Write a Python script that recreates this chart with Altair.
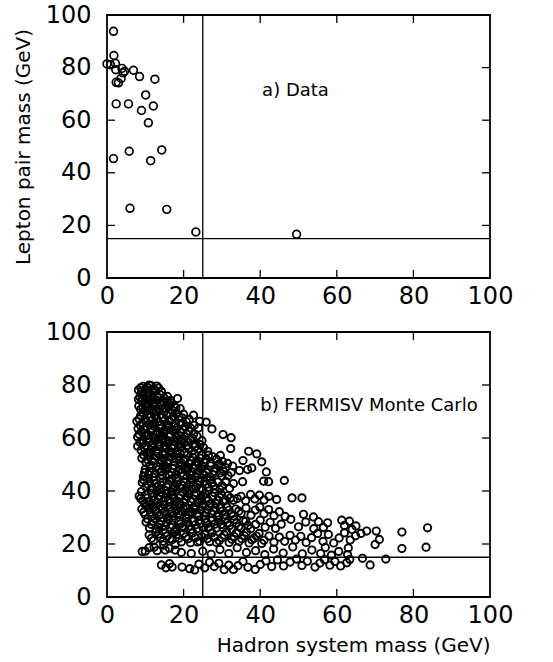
import altair as alt
import pandas as pd

# ---------------- panel a) data ----------------
data_x = [1.7, 1.8, 0.0, 0.9, 2.2, 2.3, 3.9, 4.6, 4.2, 3.7, 2.4, 3.0, 6.9, 8.5, 12.5,
          2.4, 5.6, 10.1, 9.0, 12.1, 10.8, 1.7, 5.8, 14.3, 11.4, 6.0, 15.6, 23.2, 49.5]
data_y = [93.8, 84.6, 81.4, 81.1, 81.6, 79.2, 79.7, 78.6, 78.0, 75.9, 74.4, 74.2, 79.0, 76.6, 75.6,
          66.2, 66.2, 69.6, 63.7, 65.4, 59.0, 45.4, 48.2, 48.7, 44.6, 26.5, 26.1, 17.5, 16.6]

# ---------------- panel b) FERMISV Monte Carlo (read band by band) ----------------
mc_78_80 = [(9.5,79.5),(10.5,79.2),(11.5,79.8),(12.2,78.6),(13.5,78.9),(8.2,78.1),(9.0,77.6),
            (10.8,77.3),(12.8,77.8),(11.4,76.5),(8.8,79.0),(10.0,78.4),(11.0,80.0),(12.0,77.2),
            (13.0,79.6),(14.2,77.6),(9.6,77.0),(11.8,78.3)]
mc_74_77 = [(8.6,75.4),(9.7,76.1),(10.4,74.6),(11.9,75.2),(12.9,74.3),(13.8,76.4),(14.9,75.1),
            (15.6,73.9),(9.1,73.8),(16.6,74.2),(18.4,74.9),(8.2,74.6),(9.2,75.0),(10.2,73.2),
            (11.2,74.0),(12.4,73.6),(13.2,75.6),(14.6,74.0),(15.8,75.7),(16.8,73.2)]
mc_70_73 = [(8.3,72.1),(9.4,71.3),(10.6,72.6),(11.3,70.8),(12.5,71.9),(13.6,70.6),(14.4,72.4),
            (15.3,71.1),(16.2,72.8),(17.1,70.4),(19.1,71.1),(10.0,70.2),(12.0,73.1),(14.0,73.5),
            (17.6,72.0),(8.8,70.8),(10.6,71.6),(12.8,70.2),(15.0,70.0),(16.0,71.8),(18.0,71.4)]
mc_66_69 = [(7.8,66.3),(8.8,68.4),(9.9,67.2),(10.7,68.9),(11.8,66.7),(12.6,68.2),(13.4,66.1),
            (14.5,67.7),(15.6,68.6),(16.3,66.4),(17.4,67.9),(18.2,69.3),(19.6,67.6),(20.7,66.2),
            (22.6,68.6),(24.2,66.3),(25.9,66.0),(9.2,65.5),(11.0,65.2),(14.0,65.0),
            (8.4,67.2),(9.4,69.4),(10.2,66.0),(11.4,67.8),(12.2,69.6),(13.0,67.3),(14.0,68.9),
            (15.0,66.5),(16.0,69.5),(16.9,67.0),(17.9,65.6),(18.8,68.0),(20.0,69.0),(21.5,67.0),
            (19.2,65.4),(12.4,65.6)]
mc_62_65 = [(8.1,63.6),(9.0,62.4),(10.3,64.1),(11.4,62.8),(12.2,64.5),(13.1,62.2),(14.2,63.7),
            (15.0,62.5),(16.1,64.0),(17.0,62.9),(18.3,63.9),(19.2,62.1),(20.5,64.3),(21.4,62.6),
            (23.9,63.8),(27.4,63.4),(8.7,64.8),(15.8,65.0),(8.4,61.4),(9.6,63.4),(10.8,61.0),
            (11.8,63.6),(12.8,61.2),(13.6,64.6),(14.6,61.8),(15.6,63.0),(16.6,61.4),(17.6,64.4),
            (18.8,61.0),(19.8,63.2),(20.8,61.6),(21.8,63.8),(22.6,61.4),(22.8,64.8)]
mc_58_61 = [(8.0,60.4),(9.3,59.2),(10.2,60.8),(11.1,58.6),(12.4,60.0),(13.3,58.4),(14.1,60.6),
            (15.2,59.3),(16.4,60.9),(17.3,58.8),(18.1,60.2),(19.4,59.0),(20.3,60.7),(21.2,58.5),
            (22.4,59.8),(23.5,60.7),(30.3,61.3),(32.4,60.1),(9.8,61.5),(13.8,61.6),(17.8,61.7),
            (8.6,58.4),(10.6,59.6),(12.6,59.0),(14.4,59.6),(16.0,59.0),(18.0,58.4),(19.8,59.8),
            (21.8,59.4),(24.8,59.0)]
mc_54_57 = [(8.0,56.9),(8.9,55.4),(10.0,57.2),(10.9,54.6),(11.8,56.3),(12.9,55.0),(13.7,56.8),
            (14.6,54.4),(15.5,56.0),(16.6,54.9),(17.5,57.1),(18.4,55.3),(19.3,56.6),(20.2,54.5),
            (21.3,56.1),(22.2,55.0),(23.1,56.8),(24.3,57.5),(26.3,55.0),(32.3,56.0),(37.0,55.0),
            (39.1,54.0),(9.4,58.0),(12.0,58.0),(16.0,57.8),(20.0,58.0),(9.8,56.2),(11.6,57.4),
            (13.6,57.6),(15.0,57.2),(16.8,56.4),(18.8,57.6),(20.8,57.2),(22.8,57.8),(23.8,55.8),
            (25.2,56.4)]
mc_50_53 = [(9.1,52.4),(10.2,50.8),(11.0,52.9),(11.9,51.2),(12.8,53.1),(13.9,50.5),(14.8,52.2),
            (15.7,50.9),(16.5,52.8),(17.6,51.0),(18.6,52.5),(19.5,50.6),(20.4,52.0),(21.5,50.3),
            (22.4,52.7),(23.3,51.1),(24.4,52.4),(25.5,50.8),(28.6,52.0),(30.1,51.2),(31.5,50.4),
            (35.5,51.5),(40.4,51.0),(10.5,54.0),(14.5,53.8),(18.0,53.9),(26.5,53.5),
            (9.6,53.6),(10.6,51.8),(11.5,54.6),(12.3,52.2),(13.3,54.2),(14.3,51.6),(15.2,53.8),
            (16.1,51.6),(17.0,54.4),(18.0,52.0),(19.0,54.2),(20.0,51.4),(21.0,53.6),(22.0,51.4),
            (22.9,54.0),(23.9,50.2),(24.8,53.6),(25.9,51.8),(27.0,50.6),(27.5,53.0),(29.3,50.2),
            (29.6,53.4)]
mc_45_49 = [(10.0,48.3),(10.8,46.2),(11.7,48.7),(12.6,46.5),(13.5,48.1),(14.4,45.9),(15.3,47.7),
            (16.2,46.0),(17.2,48.5),(18.1,46.4),(19.0,48.2),(19.9,45.7),(20.8,47.5),(21.7,46.1),
            (22.6,48.6),(23.5,46.8),(24.5,48.4),(25.4,46.0),(26.5,47.8),(27.6,46.3),(28.5,48.5),
            (29.5,46.8),(30.5,47.3),(31.6,45.8),(32.4,47.0),(34.6,47.7),(36.7,48.1),(37.8,48.7),
            (41.6,47.2),(9.5,45.5),(11.2,49.6),(15.0,49.7),(19.5,49.6),(23.0,49.8),(27.0,49.5),
            (9.8,47.0),(11.2,47.4),(12.0,45.2),(13.0,49.2),(14.0,47.2),(14.8,49.0),(15.8,48.8),
            (16.8,47.0),(17.6,49.6),(18.6,47.6),(19.4,46.8),(20.4,49.2),(21.2,48.4),(22.2,47.2),
            (23.2,45.4),(24.0,47.6),(25.0,49.2),(25.9,47.0),(27.0,45.2),(28.0,47.4),(29.0,49.8),
            (30.0,45.6),(31.0,48.8),(32.8,49.4)]
mc_40_44 = [(9.2,43.2),(10.1,41.5),(11.0,43.7),(11.9,41.0),(12.8,42.8),(13.7,40.6),(14.6,43.4),
            (15.5,41.8),(16.4,43.9),(17.3,40.9),(18.2,42.6),(19.1,41.2),(20.0,43.5),(20.9,41.6),
            (21.8,43.1),(22.7,40.8),(23.6,42.4),(24.5,41.1),(25.5,43.6),(26.4,41.4),(27.4,42.9),
            (28.2,40.7),(35.4,43.5),(40.9,43.7),(42.2,43.5),(46.3,44.0),(10.5,44.5),(14.0,44.8),
            (18.0,44.6),(22.0,44.7),(26.0,44.8),(30.0,42.0),(32.0,41.0),
            (9.6,44.2),(10.6,42.6),(11.4,40.4),(12.3,44.0),(13.2,41.8),(14.2,42.2),(15.0,40.2),
            (16.0,42.6),(16.9,44.6),(17.8,41.6),(18.6,43.8),(19.6,42.2),(20.4,40.4),(21.4,42.4),
            (22.3,44.2),(23.2,41.6),(24.1,43.6),(25.0,40.4),(26.0,42.6),(27.0,44.2),(27.8,41.8),
            (29.0,43.4),(29.5,40.6),(31.0,43.6),(33.0,42.8)]
mc_35_39 = [(8.4,38.1),(9.3,36.4),(10.2,38.6),(11.1,35.9),(12.0,37.7),(12.9,35.5),(13.8,38.2),
            (14.7,36.1),(15.6,38.9),(16.5,35.8),(17.4,37.5),(18.3,36.2),(19.2,38.4),(20.1,35.6),
            (21.0,37.9),(21.9,36.0),(22.8,38.5),(23.7,35.7),(24.6,37.2),(25.6,39.0),(26.5,36.3),
            (27.5,38.0),(28.4,35.4),(29.4,37.6),(30.3,36.0),(31.5,38.2),(33.0,36.5),(35.0,38.0),
            (36.2,36.3),(37.5,38.7),(38.6,37.0),(39.8,38.4),(41.0,36.6),(42.3,38.0),(44.3,36.8),
            (48.3,37.4),(50.9,37.4),(9.0,39.8),(13.0,39.9),(17.0,39.6),(21.0,39.8),(25.0,34.9),
            (8.8,37.2),(9.8,35.2),(10.6,37.4),(11.6,39.2),(12.4,36.6),(13.4,37.0),(14.2,39.4),
            (15.2,37.4),(16.0,36.8),(17.0,38.6),(17.8,36.0),(18.8,37.4),(19.7,39.6),(20.6,36.8),
            (21.4,38.8),(22.4,37.0),(23.2,39.4),(24.2,36.4),(25.1,38.2),(26.0,37.4),(27.0,35.2),
            (28.0,39.4),(29.0,36.6),(29.9,38.6),(31.0,36.6),(32.2,37.4),(34.0,37.2)]
mc_30_34 = [(9.1,33.2),(10.0,31.0),(10.9,33.7),(11.8,30.5),(12.7,32.4),(13.6,30.8),(14.5,33.1),
            (15.4,31.3),(16.3,33.9),(17.2,30.6),(18.1,32.6),(19.0,31.0),(19.9,33.5),(20.8,30.3),
            (21.7,32.2),(22.6,33.8),(23.5,31.1),(24.4,32.9),(25.4,30.6),(26.3,33.0),(27.3,31.5),
            (28.2,33.6),(29.2,30.8),(30.2,32.5),(31.3,34.0),(32.4,31.2),(33.6,33.2),(35.0,31.5),
            (36.3,33.6),(37.6,30.9),(38.7,32.8),(39.9,34.0),(41.0,31.4),(42.2,33.0),(43.6,30.7),
            (45.0,32.2),(46.5,30.4),(51.3,31.2),(53.9,30.2),(11.5,34.8),(15.0,34.7),(19.0,34.6),
            (23.0,34.5),(9.6,32.0),(10.4,34.6),(11.4,32.0),(12.2,33.8),(13.2,31.8),(14.0,34.2),
            (15.0,32.2),(15.9,30.2),(16.8,32.2),(17.6,34.4),(18.6,31.6),(19.5,32.4),(20.4,34.0),
            (21.2,31.0),(22.2,31.6),(23.0,33.0),(24.0,30.6),(24.9,34.0),(25.9,31.6),(26.8,34.4),
            (27.8,32.4),(28.7,30.4),(29.7,33.8),(30.8,31.0),(31.9,32.8),(33.0,30.6),(34.4,32.4)]
mc_25_29 = [(10.2,28.3),(11.1,26.0),(12.0,28.7),(12.9,25.6),(13.8,27.4),(14.7,25.4),(15.6,28.1),
            (16.5,26.3),(17.4,28.9),(18.3,25.7),(19.2,27.6),(20.1,26.0),(21.0,28.4),(22.0,25.5),
            (23.0,27.2),(24.0,29.0),(25.0,26.4),(26.0,28.2),(27.0,25.3),(28.1,27.5),(29.2,29.1),
            (30.3,26.1),(31.4,28.0),(32.6,25.6),(33.8,27.8),(35.0,26.0),(36.2,28.6),(37.5,25.8),
            (38.8,27.4),(40.0,29.0),(41.3,26.3),(42.6,28.2),(44.0,25.9),(45.5,27.5),(48.0,29.3),
            (51.9,28.3),(55.2,28.4),(57.6,28.0),(61.3,29.0),(63.3,28.6),(65.0,26.8),(56.5,26.2),
            (62.0,27.0),(64.0,25.5),(54.0,25.8),(50.0,26.5),
            (10.6,29.4),(11.6,27.4),(12.4,29.6),(13.4,26.4),(14.2,28.6),(15.2,26.8),(16.0,29.4),
            (17.0,27.2),(17.8,25.2),(18.8,28.8),(19.6,26.6),(20.6,29.6),(21.5,26.8),(22.5,28.6),
            (23.5,25.8),(24.5,27.8),(25.5,29.4),(26.5,26.2),(27.5,29.0),(28.6,26.0),(29.8,27.4),
            (30.8,29.4),(32.0,27.0),(33.2,29.2),(34.4,26.6),(35.6,28.8),(36.8,27.0)]
mc_20_24 = [(11.0,23.4),(12.2,21.3),(13.4,23.8),(14.6,21.0),(15.8,23.0),(17.0,21.6),(18.2,23.6),
            (19.4,20.8),(20.6,22.7),(21.8,20.5),(23.0,22.4),(24.2,21.0),(25.5,23.6),(26.8,20.9),
            (28.0,22.5),(29.3,21.2),(30.6,23.4),(31.9,20.6),(33.2,22.8),(34.5,21.0),(35.8,23.2),
            (37.1,20.4),(38.4,22.2),(39.7,24.0),(41.0,21.4),(42.3,23.0),(43.6,20.7),(45.0,22.6),
            (46.4,21.0),(47.8,23.3),(49.2,21.5),(50.6,22.9),(52.0,20.6),(53.4,22.4),(55.0,24.0),
            (56.4,21.0),(57.8,23.6),(59.2,20.4),(60.6,22.3),(62.0,24.2),(63.5,21.5),(64.9,23.1),
            (66.3,24.0),(67.8,24.9),(70.3,24.9),(71.1,21.7),(70.0,19.8),(77.0,24.5),(83.7,26.1),
            (11.6,22.2),(12.8,24.6),(14.0,22.4),(15.2,24.2),(16.4,22.0),(17.6,24.6),(18.8,22.2),
            (20.0,24.0),(21.2,22.0),(22.4,24.2),(23.6,20.8),(24.8,22.8),(26.2,22.0),(27.4,24.2),
            (28.6,20.6),(30.0,22.4),(31.2,24.6),(32.6,21.8),(33.8,24.2),(35.2,22.0),(36.4,24.4),
            (37.8,21.6),(39.0,23.0),(40.4,20.2)]
mc_15_19 = [(9.2,17.2),(10.0,17.3),(11.0,18.6),(12.3,18.8),(13.1,17.5),(14.8,19.6),(15.2,17.7),
            (16.3,18.4),(17.8,19.8),(17.8,17.7),(19.4,16.8),(22.0,16.4),(25.0,17.3),(27.2,16.1),
            (29.5,17.9),(31.8,16.4),(34.0,18.6),(36.4,16.8),(38.8,17.5),(41.2,16.0),(43.5,18.1),
            (46.0,16.6),(48.5,18.9),(51.0,16.3),(53.5,17.7),(55.8,16.4),(57.0,18.7),(58.6,15.8),
            (60.5,17.2),(62.8,16.0),(63.0,18.5),(77.0,18.3),(83.3,18.8)]
mc_10_14 = [(14.2,12.1),(15.4,11.0),(16.3,12.6),(17.0,11.3),(19.6,11.3),(21.6,10.7),(22.9,10.2),
            (24.0,12.4),(25.5,11.0),(26.8,13.1),(28.0,11.5),(29.2,12.7),(30.6,10.3),(31.8,12.0),
            (33.0,10.4),(34.2,11.8),(35.5,13.4),(36.8,11.2),(38.7,10.4),(40.0,12.3),(41.5,13.6),
            (43.0,11.5),(44.5,14.0),(46.1,11.7),(47.8,13.2),(49.5,14.3),(50.9,11.9),(52.3,13.5),
            (54.3,11.3),(55.6,12.8),(56.8,14.1),(58.2,12.0),(59.5,13.4),(61.0,11.7),(62.6,12.9),
            (63.4,14.2),(66.7,14.6),(68.7,12.1),(72.8,14.3)]

mc_bands = [mc_78_80, mc_74_77, mc_70_73, mc_66_69, mc_62_65, mc_58_61, mc_54_57, mc_50_53,
            mc_45_49, mc_40_44, mc_35_39, mc_30_34, mc_25_29, mc_20_24, mc_15_19, mc_10_14]

axis_values = [0, 20, 40, 60, 80, 100]
inner_ticks = [20, 40, 60, 80]
cut_x = 25
cut_y = 15

df_data = pd.DataFrame({"x": data_x, "y": data_y})
df_mc = pd.DataFrame([p for band in mc_bands for p in band], columns=["x", "y"])
df_xt = pd.DataFrame({"x": inner_ticks})
df_yt = pd.DataFrame({"y": inner_ticks})

W = 383
FONT = "DejaVu Sans"
TL = 8  # inward tick length


def panel(df, label, label_x, label_y, x_title, y_title, size, sw, H):
    xs = alt.Scale(domain=[0, 100], nice=False, zero=False)
    ys = alt.Scale(domain=[0, 100], nice=False, zero=False)
    x_axis = alt.Axis(values=axis_values, tickSize=0, domain=False, grid=False,
                      labelFontSize=24, labelPadding=6, labelFont=FONT, labelColor="black",
                      titleFontSize=20, titleFont=FONT, titleFontWeight="normal",
                      titleColor="black", titleAnchor="end", titlePadding=8,
                      labelFlush=False)
    y_axis = alt.Axis(values=axis_values, tickSize=0, domain=False, grid=False,
                      labelFontSize=24, labelPadding=16, labelFont=FONT, labelColor="black",
                      titleFontSize=20, titleFont=FONT, titleFontWeight="normal",
                      titleColor="black", titlePadding=12, labelFlush=False)

    def X(field):
        return alt.X(field, scale=xs, axis=x_axis, title=x_title)

    def Y(field):
        return alt.Y(field, scale=ys, axis=y_axis, title=y_title)

    pts = alt.Chart(df).mark_point(shape="circle", filled=False, color="black",
                                   size=size, strokeWidth=sw, opacity=1).encode(
        x=X("x:Q"), y=Y("y:Q"))
    vline = alt.Chart().mark_rule(color="black", strokeWidth=1.3).encode(x=alt.datum(cut_x))
    hline = alt.Chart().mark_rule(color="black", strokeWidth=1.3).encode(y=alt.datum(cut_y))
    tb = alt.Chart(df_xt).mark_rule(color="black", strokeWidth=1.3).encode(
        x=X("x:Q"), y=alt.value(H), y2=alt.value(H - TL))
    tt = alt.Chart(df_xt).mark_rule(color="black", strokeWidth=1.3).encode(
        x=X("x:Q"), y=alt.value(0), y2=alt.value(TL))
    tl = alt.Chart(df_yt).mark_rule(color="black", strokeWidth=1.3).encode(
        y=Y("y:Q"), x=alt.value(0), x2=alt.value(TL))
    tr = alt.Chart(df_yt).mark_rule(color="black", strokeWidth=1.3).encode(
        y=Y("y:Q"), x=alt.value(W), x2=alt.value(W - TL))
    txt = alt.Chart().mark_text(align="left", baseline="middle", font=FONT, fontSize=18,
                                color="black").encode(
        x=alt.datum(label_x), y=alt.datum(label_y), text=alt.value(label))
    return alt.layer(pts, vline, hline, tb, tt, tl, tr, txt).properties(width=W, height=H)


top = panel(df_data, "a) Data", 40.5, 71.0, None, "Lepton pair mass (GeV)", 60, 1.7, 263)
bottom = panel(df_mc, "b) FERMISV Monte Carlo", 40.0, 72.0, "Hadron system mass (GeV)", None,
               54, 1.9, 265)

chart = alt.vconcat(top, bottom, spacing=10).properties(
    padding={"left": 12, "top": 2, "right": 6, "bottom": 2}
).configure(background="white").configure_view(stroke="black", strokeWidth=1.8)

chart.save("out.html", embed_options={"renderer": "svg", "actions": False})
